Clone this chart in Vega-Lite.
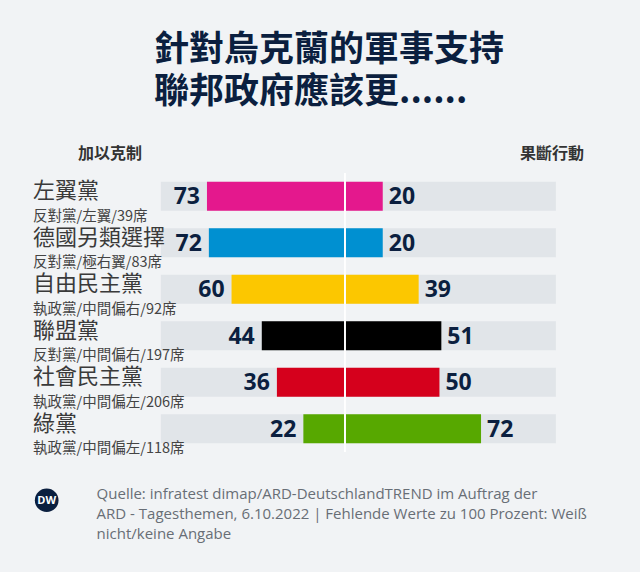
{
  "$schema": "https://vega.github.io/schema/vega-lite/v6.json",
  "width": 640,
  "height": 279,
  "autosize": {"type": "none"},
  "padding": {"top": 173, "bottom": 120, "left": 0, "right": 0},
  "background": "#f1f3f5",
  "config": {"view": {"stroke": null}},
  "title": {
    "text": ["針對烏克蘭的軍事支持", "聯邦政府應該更......"],
    "anchor": "start",
    "frame": "group",
    "dx": 154,
    "offset": 36,
    "font": "Noto Sans CJK TC",
    "fontSize": 35,
    "fontWeight": "bold",
    "lineHeight": 42,
    "color": "#0b1f3f"
  },
  "data": {
    "values": [
      {"party": "左翼黨", "info": "反對黨/左翼/39席", "restrain": 73, "act": 20},
      {"party": "德國另類選擇", "info": "反對黨/極右翼/83席", "restrain": 72, "act": 20},
      {"party": "自由民主黨", "info": "執政黨/中間偏右/92席", "restrain": 60, "act": 39},
      {"party": "聯盟黨", "info": "反對黨/中間偏右/197席", "restrain": 44, "act": 51},
      {"party": "社會民主黨", "info": "執政黨/中間偏左/206席", "restrain": 36, "act": 50},
      {"party": "綠黨", "info": "執政黨/中間偏左/118席", "restrain": 22, "act": 72}
    ]
  },
  "layer": [
    {
      "layer": [
        {
          "mark": {"type": "bar", "color": "#e1e5e9"},
          "encoding": {
            "y": {"field": "party", "type": "nominal", "sort": null, "axis": null,
                  "scale": {"paddingInner": 0.376, "paddingOuter": 0.188}},
            "x": {"datum": -97.4, "type": "quantitative", "axis": null,
                  "scale": {"domain": [-182.5, 156.1], "nice": false, "zero": false}},
            "x2": {"datum": 111.6}
          }
        },
        {
          "mark": {"type": "bar"},
          "encoding": {
            "y": {"field": "party", "type": "nominal", "sort": null, "axis": null},
            "x": {"field": "act", "type": "quantitative", "axis": null,
                  "scale": {"domain": [-182.5, 156.1], "nice": false, "zero": false}},
            "x2": {"datum": 0},
            "color": {
              "field": "party", "type": "nominal", "legend": null,
              "scale": {
                "domain": ["左翼黨", "德國另類選擇", "自由民主黨", "聯盟黨", "社會民主黨", "綠黨"],
                "range": ["#e4188d", "#0090d1", "#fcc700", "#000000", "#d5001c", "#57a800"]
              }
            }
          }
        },
        {
          "mark": {"type": "text", "align": "left", "baseline": "middle", "dx": 6, "dy": 1,
                   "font": "Open Sans", "fontSize": 23, "fontWeight": "bold", "color": "#0b1f3f"},
          "encoding": {
            "y": {"field": "party", "type": "nominal", "sort": null, "axis": null},
            "x": {"field": "act", "type": "quantitative", "axis": null,
                  "scale": {"domain": [-182.5, 156.1], "nice": false, "zero": false}},
            "text": {"field": "act", "type": "quantitative"}
          }
        },
        {
          "mark": {"type": "text", "align": "left", "baseline": "middle", "dy": -5,
                   "font": "Noto Sans CJK TC", "fontSize": 22, "color": "#3a3a3a"},
          "encoding": {
            "y": {"field": "party", "type": "nominal", "sort": null, "axis": null},
            "x": {"datum": -165, "type": "quantitative", "axis": null,
                  "scale": {"domain": [-182.5, 156.1], "nice": false, "zero": false}},
            "text": {"field": "party", "type": "nominal"}
          }
        },
        {
          "mark": {"type": "text", "align": "left", "baseline": "middle", "dy": 20.5,
                   "font": "Noto Sans CJK TC", "fontSize": 14.5, "color": "#444444"},
          "encoding": {
            "y": {"field": "party", "type": "nominal", "sort": null, "axis": null},
            "x": {"datum": -165, "type": "quantitative", "axis": null,
                  "scale": {"domain": [-182.5, 156.1], "nice": false, "zero": false}},
            "text": {"field": "info", "type": "nominal"}
          }
        },
        {
          "data": {"values": [{}]},
          "mark": {"type": "text", "text": "加以克制", "align": "center", "baseline": "middle", "dy": -42.5,
                   "font": "Noto Sans CJK TC", "fontSize": 16, "fontWeight": "bold", "color": "#333333"},
          "encoding": {
            "y": {"datum": "左翼黨", "type": "nominal", "axis": null},
            "x": {"datum": -124.3, "type": "quantitative", "axis": null,
                  "scale": {"domain": [-182.5, 156.1], "nice": false, "zero": false}}
          }
        },
        {
          "data": {"values": [{}]},
          "mark": {"type": "text", "text": "果斷行動", "align": "center", "baseline": "middle", "dy": -42.5,
                   "font": "Noto Sans CJK TC", "fontSize": 16, "fontWeight": "bold", "color": "#333333"},
          "encoding": {
            "y": {"datum": "左翼黨", "type": "nominal", "axis": null},
            "x": {"datum": 109.6, "type": "quantitative", "axis": null,
                  "scale": {"domain": [-182.5, 156.1], "nice": false, "zero": false}}
          }
        },
        {
          "data": {"values": [{}]},
          "mark": {"type": "text",
                   "text": ["Quelle: infratest dimap/ARD-DeutschlandTREND im Auftrag der", "ARD - Tagesthemen, 6.10.2022 | Fehlende Werte zu 100 Prozent: Weiß", "nicht/keine Angabe"],
                   "align": "left", "baseline": "top", "dy": 58, "lineHeight": 20,
                   "font": "Open Sans", "fontSize": 15, "color": "#686e76"},
          "encoding": {
            "y": {"datum": "綠黨", "type": "nominal", "axis": null},
            "x": {"datum": -131.4, "type": "quantitative", "axis": null,
                  "scale": {"domain": [-182.5, 156.1], "nice": false, "zero": false}}
          }
        },
        {
          "data": {"values": [{}]},
          "mark": {"type": "circle", "size": 560, "color": "#0b1f3f", "opacity": 1},
          "encoding": {
            "y": {"datum": "綠黨", "type": "nominal", "axis": null},
            "yOffset": {"value": 86},
            "x": {"datum": -157.8, "type": "quantitative", "axis": null,
                  "scale": {"domain": [-182.5, 156.1], "nice": false, "zero": false}}
          }
        },
        {
          "data": {"values": [{}]},
          "mark": {"type": "text", "text": "DW", "align": "center", "baseline": "middle", "dy": 72,
                   "font": "Open Sans", "fontSize": 11, "fontWeight": "bold", "color": "#ffffff"},
          "encoding": {
            "y": {"datum": "綠黨", "type": "nominal", "axis": null},
            "x": {"datum": -157.8, "type": "quantitative", "axis": null,
                  "scale": {"domain": [-182.5, 156.1], "nice": false, "zero": false}}
          }
        }
      ]
    },
    {
      "layer": [
        {
          "mark": {"type": "bar"},
          "encoding": {
            "y": {"field": "party", "type": "nominal", "sort": null, "axis": null},
            "x": {"field": "restrain", "type": "quantitative", "axis": null,
                  "scale": {"domain": [-156.1, 182.5], "reverse": true, "nice": false, "zero": false}},
            "x2": {"datum": 0},
            "color": {"field": "party", "type": "nominal", "legend": null}
          }
        },
        {
          "mark": {"type": "text", "align": "right", "baseline": "middle", "dx": -7, "dy": 1,
                   "font": "Open Sans", "fontSize": 23, "fontWeight": "bold", "color": "#0b1f3f"},
          "encoding": {
            "y": {"field": "party", "type": "nominal", "sort": null, "axis": null},
            "x": {"field": "restrain", "type": "quantitative", "axis": null,
                  "scale": {"domain": [-156.1, 182.5], "reverse": true, "nice": false, "zero": false}},
            "text": {"field": "restrain", "type": "quantitative"}
          }
        },
        {
          "mark": {"type": "rule", "color": "#ffffff", "strokeWidth": 1.2, "opacity": 0.85},
          "encoding": {
            "x": {"datum": 0, "type": "quantitative", "axis": null,
                  "scale": {"domain": [-156.1, 182.5], "reverse": true, "nice": false, "zero": false}}
          }
        }
      ]
    }
  ],
  "resolve": {"scale": {"x": "independent"}}
}
